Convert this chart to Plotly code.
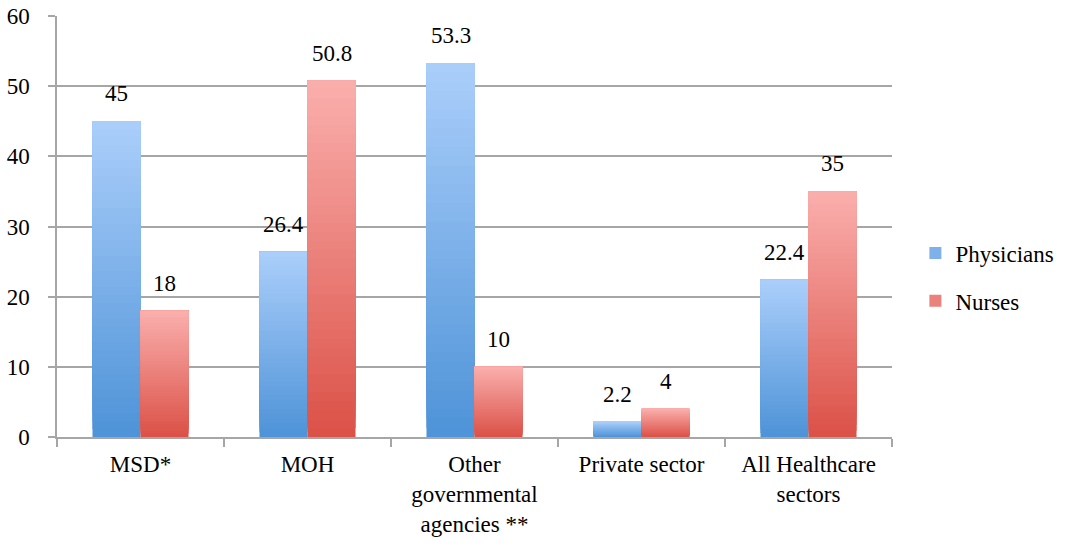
import plotly.graph_objects as go

categories = ["MSD*", "MOH", "Other<br>governmental<br>agencies **", "Private sector", "All Healthcare<br>sectors"]
physicians = [45, 26.4, 53.3, 2.2, 22.4]
nurses = [18, 50.8, 10, 4, 35]
phys_labels = ["45", "26.4", "53.3", "2.2", "22.4"]
nurse_labels = ["18", "50.8", "10", "4", "35"]

FONT = "Liberation Serif, Liberation Sans"
FS = 23
N = 40

def lerp(c1, c2, t):
    return "rgb(%d,%d,%d)" % tuple(round(a + (b - a) * t) for a, b in zip(c1, c2))

series = [
    ("Physicians", physicians, phys_labels, (79, 147, 216), (170, 206, 250), "p"),
    ("Nurses", nurses, nurse_labels, (219, 82, 72), (250, 174, 172), "n"),
]

fig = go.Figure()
for name, vals, labels, bottom, top, grp in series:
    for i in range(N):
        t = i / (N - 1)
        bases = [v * i / N for v in vals]
        fig.add_trace(go.Bar(
            x=categories,
            y=[v - b for v, b in zip(vals, bases)],
            base=bases,
            offsetgroup=grp,
            marker=dict(color=lerp(bottom, top, t), line=dict(width=0)),
            name=name,
            legendgroup=grp,
            showlegend=(i == N // 2),
            hoverinfo="skip",
        ))

annotations = []
for name, vals, labels, bottom, top, grp in series:
    shift = -24 if grp == "p" else 24
    for c, v, lab in zip(categories, vals, labels):
        annotations.append(dict(
            x=c, y=v, text=lab, showarrow=False, xshift=shift, yshift=13,
            yanchor="bottom", font=dict(family=FONT, size=FS, color="black"),
        ))

fig.update_layout(
    width=1078, height=547,
    margin=dict(l=57, r=186, t=16, b=110),
    paper_bgcolor="white", plot_bgcolor="white",
    barmode="group", bargap=0.425, bargroupgap=0,
    font=dict(family=FONT, size=FS, color="black"),
    annotations=annotations,
    legend=dict(x=1.028, y=0.38, yanchor="middle", xanchor="left",
                font=dict(family=FONT, size=FS), tracegroupgap=15,
                traceorder="grouped", itemwidth=30),
    showlegend=True,
)
fig.update_xaxes(
    type="category", showline=True, linecolor="#a6a6a6", linewidth=1.5,
    ticks="outside", tickson="boundaries", ticklen=8, tickcolor="#a6a6a6", tickwidth=1.5,
    showgrid=False, tickfont=dict(family=FONT, size=FS), automargin=False,
    ticklabelstandoff=6,
)
fig.update_yaxes(
    range=[0, 60], dtick=10, showline=True, linecolor="#a6a6a6", linewidth=1.5,
    showgrid=True, gridcolor="#a6a6a6", gridwidth=1.5,
    ticks="outside", ticklen=7, tickcolor="#a6a6a6", tickwidth=1.5,
    zeroline=False, tickfont=dict(family=FONT, size=FS), ticklabelstandoff=14,
    automargin=False,
)

fig.write_html("out.html")
